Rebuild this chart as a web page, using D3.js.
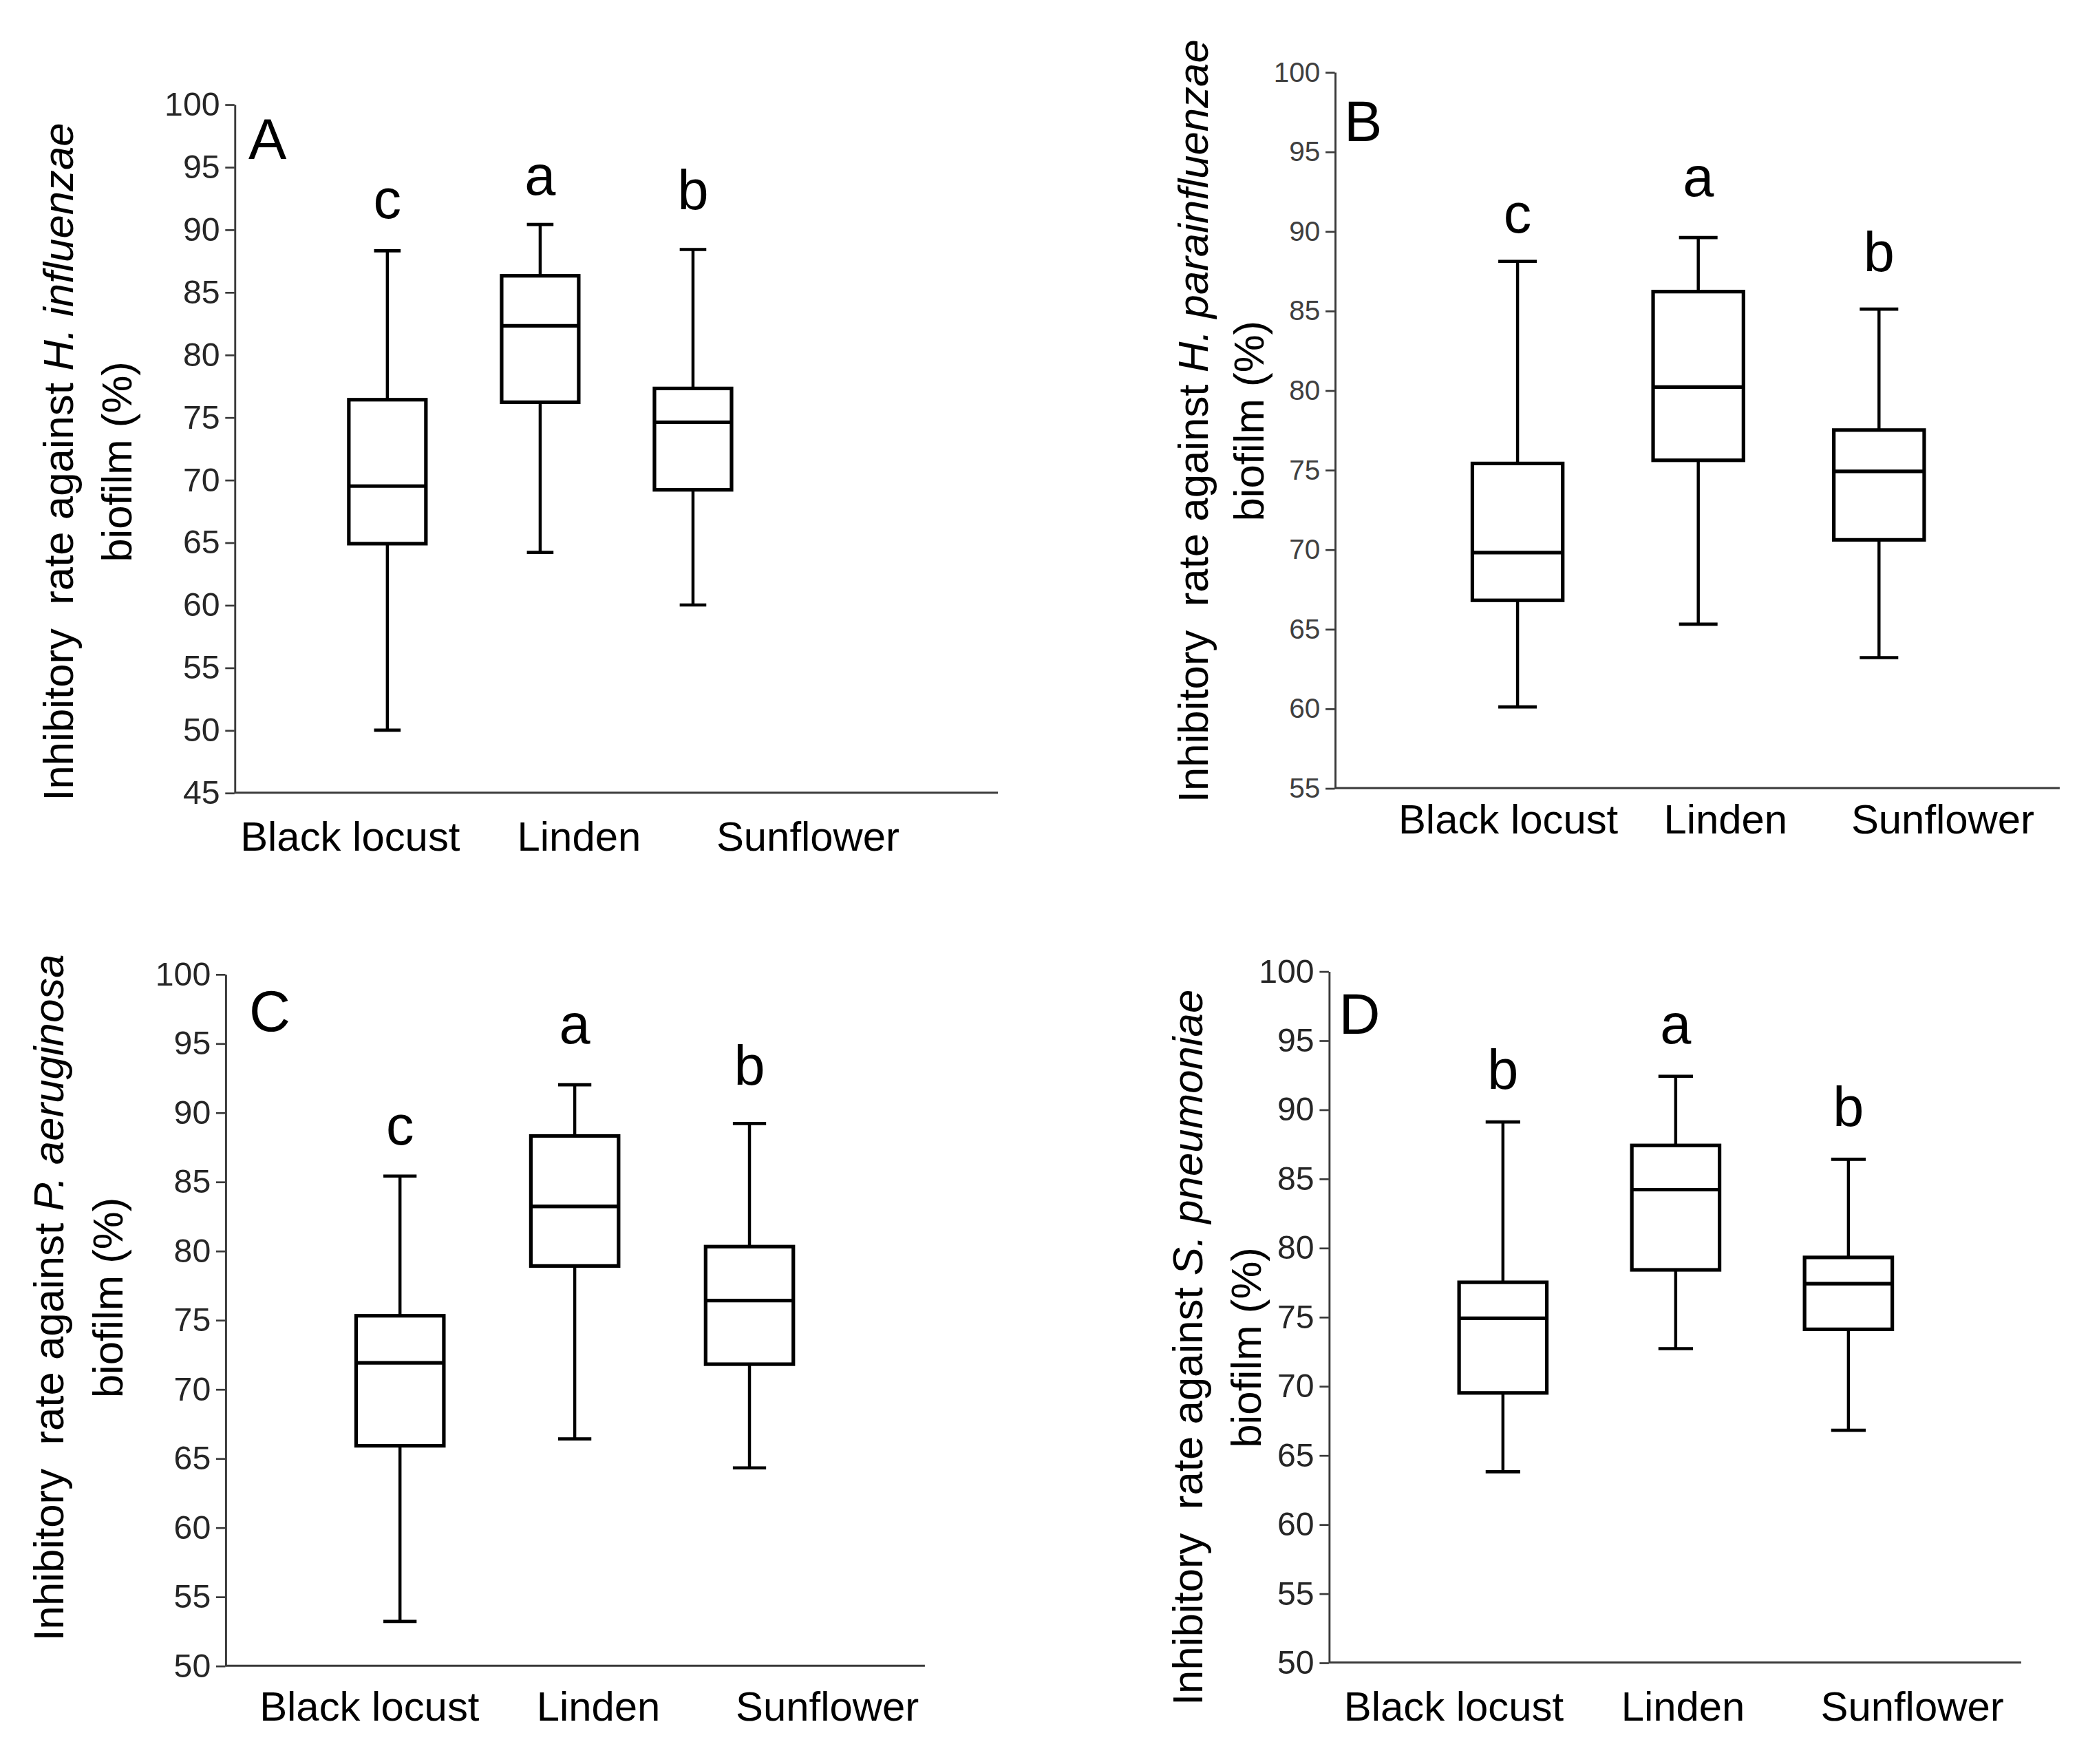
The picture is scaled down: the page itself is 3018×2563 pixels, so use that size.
<!DOCTYPE html>
<html>
<head>
<meta charset="utf-8">
<script src="https://cdn.jsdelivr.net/npm/d3@7"></script>
<style>
  body { margin: 0; background: #fff; }
  svg { display: block; }
</style>
</head>
<body>
<div id="chart"></div>
<script>
// categories and panels
const categories = ["Black locust", "Linden", "Sunflower"];
const panelLetters = ["A", "B", "C", "D"];
const organisms = ["H. influenzae", "H. parainfluenzae", "P. aeruginosa", "S. pneumoniae"];
const axisMin = [45, 55, 50, 50];
const axisMax = [100, 100, 100, 100];

// box plot statistics, one row per panel (A, B, C, D), one value per category
const whiskerLow  = [[50.0, 64.2, 60.0], [60.1, 65.3, 63.2], [53.2, 66.4, 64.3], [63.8, 72.7, 66.8]];
const quartile1   = [[64.9, 76.2, 69.2], [66.8, 75.6, 70.6], [65.9, 78.9, 71.8], [69.5, 78.4, 74.1]];
const medians     = [[69.5, 82.3, 74.6], [69.8, 80.2, 74.9], [71.9, 83.2, 76.4], [74.9, 84.2, 77.4]];
const quartile3   = [[76.4, 86.3, 77.3], [75.4, 86.2, 77.5], [75.3, 88.3, 80.3], [77.5, 87.4, 79.3]];
const whiskerHigh = [[88.3, 90.4, 88.4], [88.1, 89.6, 85.1], [85.4, 92.0, 89.2], [89.1, 92.4, 86.4]];

// significance letters and the level (in %) they sit on
const groupLetters = [["c", "a", "b"], ["c", "a", "b"], ["c", "a", "b"], ["b", "a", "b"]];
const letterLevel  = [[90.9, 92.8, 91.6], [89.9, 92.2, 87.5], [87.7, 95.0, 92.0], [91.5, 94.8, 88.8]];

// page is drawn in a 1563 wide coordinate system and scaled up
const W = 3018, H = 2563, k = W / 1563;
const font = "Liberation Sans, Arial, Helvetica, sans-serif";

var layout = [
    { x0: 176.5, yTop: 78.5, yBot: 596.5, xEnd: 751, c0: 291.5, c1: 521.5, boxW: 58, capW: 20,
      tickFont: 25, tickCol: "#262626", lab0: 263.5, lab1: 608, labY: 640, titleY: 347.5, t1: 55, t2: 99, letX: 187, letY: 119.5 },
    { x0: 1004.5, yTop: 54.2, yBot: 593, xEnd: 1550, c0: 1142, c1: 1414, boxW: 68, capW: 29,
      tickFont: 21, tickCol: "#404040", lab0: 1135, lab1: 1462, labY: 627, titleY: 316.8, t1: 908.7, t2: 951, letX: 1011.5, letY: 106 },
    { x0: 169.6, yTop: 733, yBot: 1253.4, xEnd: 696, c0: 301, c1: 564, boxW: 66, capW: 25,
      tickFont: 25, tickCol: "#262626", lab0: 278, lab1: 622.6, labY: 1294.7, titleY: 976.5, t1: 47.4, t2: 92.3, letX: 187.5, letY: 776 },
    { x0: 1000, yTop: 730.8, yBot: 1251, xEnd: 1521, c0: 1131, c1: 1391, boxW: 66, capW: 26,
      tickFont: 25, tickCol: "#262626", lab0: 1094, lab1: 1439, labY: 1294.7, titleY: 1014, t1: 905, t2: 948.6, letX: 1007.5, letY: 778 }
];

var svg = d3.select("#chart")
    .append("svg")
    .attr("width", W)
    .attr("height", H)
    .attr("viewBox", "0 0 1563 " + (H / k))
    .style("font-family", font);

svg.append("rect").attr("width", 1563).attr("height", H / k).attr("fill", "#fff");

layout.forEach(function (L, p) {
    var g = svg.append("g");

    var y = d3.scaleLinear()
        .domain([axisMin[p], axisMax[p]])
        .range([L.yBot, L.yTop]);

    var x = d3.scalePoint()
        .domain(categories)
        .range([L.c0, L.c1]);

    var xLab = d3.scalePoint()
        .domain(categories)
        .range([L.lab0, L.lab1]);

    // y axis
    var yAxis = g.append("g")
        .attr("transform", "translate(" + L.x0 + ",0)")
        .call(d3.axisLeft(y)
            .tickValues(d3.range(axisMin[p], axisMax[p] + 1, 5))
            .tickSize(7)
            .tickSizeOuter(0)
            .tickPadding(4));
    yAxis.select(".domain").attr("stroke", "#3a3a3a").attr("stroke-width", 1.5);
    yAxis.selectAll(".tick line").attr("stroke", "#3a3a3a").attr("stroke-width", 1.4);
    yAxis.selectAll(".tick text")
        .attr("fill", L.tickCol)
        .style("font-family", font)
        .style("font-size", L.tickFont + "px");

    // x axis line
    g.append("line")
        .attr("x1", L.x0).attr("x2", L.xEnd)
        .attr("y1", L.yBot).attr("y2", L.yBot)
        .attr("stroke", "#3a3a3a")
        .attr("stroke-width", 1.5);

    // category labels
    g.selectAll(".cat")
        .data(categories)
        .enter()
        .append("text")
        .attr("x", function (d) { return xLab(d); })
        .attr("y", L.labY)
        .attr("text-anchor", "middle")
        .style("font-size", "31px")
        .attr("fill", "#000")
        .text(function (d) { return d; });

    // box plots
    var rows = categories.map(function (c, i) {
        return {
            cat: c, lo: whiskerLow[p][i], q1: quartile1[p][i], med: medians[p][i],
            q3: quartile3[p][i], hi: whiskerHigh[p][i], letter: groupLetters[p][i], lv: letterLevel[p][i]
        };
    });

    var box = g.selectAll(".box")
        .data(rows)
        .enter()
        .append("g")
        .attr("class", "box");

    // whiskers
    box.append("line")
        .attr("x1", function (d) { return x(d.cat); })
        .attr("x2", function (d) { return x(d.cat); })
        .attr("y1", function (d) { return y(d.hi); })
        .attr("y2", function (d) { return y(d.q3); })
        .attr("stroke", "#000").attr("stroke-width", 2.3);
    box.append("line")
        .attr("x1", function (d) { return x(d.cat); })
        .attr("x2", function (d) { return x(d.cat); })
        .attr("y1", function (d) { return y(d.q1); })
        .attr("y2", function (d) { return y(d.lo); })
        .attr("stroke", "#000").attr("stroke-width", 2.3);
    // caps
    box.append("line")
        .attr("x1", function (d) { return x(d.cat) - L.capW / 2; })
        .attr("x2", function (d) { return x(d.cat) + L.capW / 2; })
        .attr("y1", function (d) { return y(d.hi); })
        .attr("y2", function (d) { return y(d.hi); })
        .attr("stroke", "#000").attr("stroke-width", 2.4);
    box.append("line")
        .attr("x1", function (d) { return x(d.cat) - L.capW / 2; })
        .attr("x2", function (d) { return x(d.cat) + L.capW / 2; })
        .attr("y1", function (d) { return y(d.lo); })
        .attr("y2", function (d) { return y(d.lo); })
        .attr("stroke", "#000").attr("stroke-width", 2.4);
    // box
    box.append("rect")
        .attr("x", function (d) { return x(d.cat) - L.boxW / 2; })
        .attr("y", function (d) { return y(d.q3); })
        .attr("width", L.boxW)
        .attr("height", function (d) { return y(d.q1) - y(d.q3); })
        .attr("fill", "#fff")
        .attr("stroke", "#000")
        .attr("stroke-width", 2.7);
    // median
    box.append("line")
        .attr("x1", function (d) { return x(d.cat) - L.boxW / 2; })
        .attr("x2", function (d) { return x(d.cat) + L.boxW / 2; })
        .attr("y1", function (d) { return y(d.med); })
        .attr("y2", function (d) { return y(d.med); })
        .attr("stroke", "#000").attr("stroke-width", 2.7);
    // significance letters
    box.append("text")
        .attr("x", function (d) { return x(d.cat); })
        .attr("y", function (d) { return y(d.lv); })
        .attr("text-anchor", "middle")
        .style("font-size", "42px")
        .attr("fill", "#000")
        .text(function (d) { return d.letter; });

    // panel letter
    g.append("text")
        .attr("x", L.letX)
        .attr("y", L.letY)
        .style("font-size", "43px")
        .attr("fill", "#000")
        .text(panelLetters[p]);

    // y axis title, two lines (the original has a wide gap after "Inhibitory")
    var t1 = g.append("text")
        .attr("transform", "translate(" + L.t1 + "," + L.titleY + ") rotate(-90)")
        .attr("text-anchor", "middle")
        .style("font-size", "32px")
        .style("white-space", "pre")
        .attr("fill", "#000");
    t1.append("tspan").text("Inhibitory  rate against ");
    t1.append("tspan").style("font-style", "italic").text(organisms[p]);

    g.append("text")
        .attr("transform", "translate(" + L.t2 + "," + L.titleY + ") rotate(-90)")
        .attr("text-anchor", "middle")
        .style("font-size", "32px")
        .attr("fill", "#000")
        .text("biofilm (%)");
});
</script>
</body>
</html>
